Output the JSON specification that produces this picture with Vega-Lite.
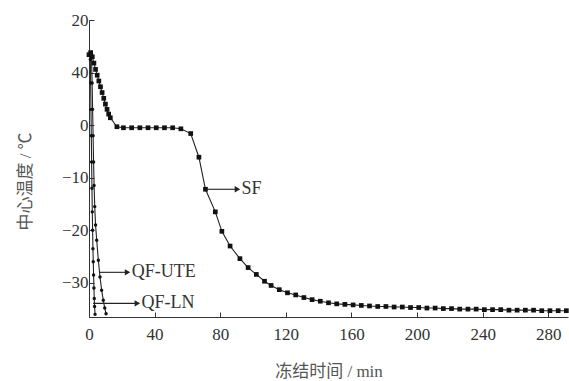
{
  "$schema": "https://vega.github.io/schema/vega-lite/v6.json",
  "width": 479,
  "height": 297,
  "autosize": "none",
  "padding": {"left": 89, "top": 20, "right": 1, "bottom": 64},
  "background": "white",
  "config": {
    "view": {"stroke": null},
    "font": "Liberation Serif, Noto Sans CJK SC",
    "axis": {
      "grid": false,
      "domainColor": "#333",
      "tickColor": "#333",
      "labelColor": "#333",
      "titleColor": "#555",
      "labelFont": "Liberation Serif",
      "labelFontSize": 17,
      "titleFont": "Liberation Serif, Noto Sans CJK SC",
      "titleFontSize": 17,
      "titleFontWeight": "normal",
      "tickSize": -5
    }
  },
  "datasets": {
    "curves": [
      {"series": "SF", "t": 0, "T": 13.4},
      {"series": "SF", "t": 1, "T": 13.8},
      {"series": "SF", "t": 2, "T": 13.0},
      {"series": "SF", "t": 3, "T": 11.8},
      {"series": "SF", "t": 4, "T": 10.6},
      {"series": "SF", "t": 5, "T": 9.5},
      {"series": "SF", "t": 6, "T": 8.4},
      {"series": "SF", "t": 7, "T": 7.3},
      {"series": "SF", "t": 8, "T": 6.2},
      {"series": "SF", "t": 9, "T": 5.1},
      {"series": "SF", "t": 10, "T": 4.0},
      {"series": "SF", "t": 11, "T": 3.0},
      {"series": "SF", "t": 12, "T": 2.1},
      {"series": "SF", "t": 13, "T": 1.4},
      {"series": "SF", "t": 17, "T": -0.3},
      {"series": "SF", "t": 21, "T": -0.5},
      {"series": "SF", "t": 26, "T": -0.5},
      {"series": "SF", "t": 31, "T": -0.5},
      {"series": "SF", "t": 36, "T": -0.5},
      {"series": "SF", "t": 41, "T": -0.5},
      {"series": "SF", "t": 46, "T": -0.5},
      {"series": "SF", "t": 51, "T": -0.5},
      {"series": "SF", "t": 56, "T": -0.7},
      {"series": "SF", "t": 62, "T": -1.6},
      {"series": "SF", "t": 67, "T": -6.1},
      {"series": "SF", "t": 71, "T": -12.2},
      {"series": "SF", "t": 77, "T": -16.5},
      {"series": "SF", "t": 81, "T": -20.2},
      {"series": "SF", "t": 86, "T": -23.0},
      {"series": "SF", "t": 92, "T": -25.4},
      {"series": "SF", "t": 97, "T": -27.1},
      {"series": "SF", "t": 102, "T": -28.4},
      {"series": "SF", "t": 107, "T": -29.7},
      {"series": "SF", "t": 111, "T": -30.5},
      {"series": "SF", "t": 116, "T": -31.3},
      {"series": "SF", "t": 121, "T": -31.9},
      {"series": "SF", "t": 126, "T": -32.3},
      {"series": "SF", "t": 131, "T": -32.8},
      {"series": "SF", "t": 136, "T": -33.2},
      {"series": "SF", "t": 141, "T": -33.5},
      {"series": "SF", "t": 146, "T": -33.8},
      {"series": "SF", "t": 151, "T": -34.0},
      {"series": "SF", "t": 156, "T": -34.1},
      {"series": "SF", "t": 161, "T": -34.2},
      {"series": "SF", "t": 166, "T": -34.3},
      {"series": "SF", "t": 171, "T": -34.4},
      {"series": "SF", "t": 176, "T": -34.5},
      {"series": "SF", "t": 181, "T": -34.5},
      {"series": "SF", "t": 186, "T": -34.6},
      {"series": "SF", "t": 191, "T": -34.6},
      {"series": "SF", "t": 196, "T": -34.7},
      {"series": "SF", "t": 201, "T": -34.7},
      {"series": "SF", "t": 206, "T": -34.8},
      {"series": "SF", "t": 211, "T": -34.8},
      {"series": "SF", "t": 216, "T": -34.9},
      {"series": "SF", "t": 221, "T": -34.9},
      {"series": "SF", "t": 226, "T": -35.0},
      {"series": "SF", "t": 231, "T": -35.0},
      {"series": "SF", "t": 236, "T": -35.0},
      {"series": "SF", "t": 241, "T": -35.1},
      {"series": "SF", "t": 246, "T": -35.1},
      {"series": "SF", "t": 251, "T": -35.1},
      {"series": "SF", "t": 256, "T": -35.2},
      {"series": "SF", "t": 261, "T": -35.2},
      {"series": "SF", "t": 266, "T": -35.2},
      {"series": "SF", "t": 271, "T": -35.2},
      {"series": "SF", "t": 276, "T": -35.3},
      {"series": "SF", "t": 281, "T": -35.3},
      {"series": "SF", "t": 286, "T": -35.3},
      {"series": "SF", "t": 291, "T": -35.3},
      {"series": "QF-UTE", "t": 1.5, "T": 13.5},
      {"series": "QF-UTE", "t": 1.9, "T": 8.0},
      {"series": "QF-UTE", "t": 2.2, "T": 3.0},
      {"series": "QF-UTE", "t": 2.5, "T": -2.0},
      {"series": "QF-UTE", "t": 2.8, "T": -7.0},
      {"series": "QF-UTE", "t": 3.1, "T": -11.5},
      {"series": "QF-UTE", "t": 3.5, "T": -15.5},
      {"series": "QF-UTE", "t": 4.0, "T": -19.0},
      {"series": "QF-UTE", "t": 4.7, "T": -21.9},
      {"series": "QF-UTE", "t": 5.7, "T": -25.7},
      {"series": "QF-UTE", "t": 6.7, "T": -28.9},
      {"series": "QF-UTE", "t": 7.7, "T": -31.4},
      {"series": "QF-UTE", "t": 8.7, "T": -33.3},
      {"series": "QF-UTE", "t": 9.6, "T": -34.8},
      {"series": "QF-UTE", "t": 10.4, "T": -35.9},
      {"series": "QF-LN", "t": 0.8, "T": 12.5},
      {"series": "QF-LN", "t": 1.0, "T": 8.0},
      {"series": "QF-LN", "t": 1.2, "T": 3.0},
      {"series": "QF-LN", "t": 1.4, "T": -2.0},
      {"series": "QF-LN", "t": 1.6, "T": -7.0},
      {"series": "QF-LN", "t": 1.8, "T": -12.0},
      {"series": "QF-LN", "t": 2.0, "T": -16.5},
      {"series": "QF-LN", "t": 2.2, "T": -20.0},
      {"series": "QF-LN", "t": 2.4, "T": -23.5},
      {"series": "QF-LN", "t": 2.6, "T": -26.0},
      {"series": "QF-LN", "t": 2.8, "T": -28.5},
      {"series": "QF-LN", "t": 3.0, "T": -31.0},
      {"series": "QF-LN", "t": 3.2, "T": -33.0},
      {"series": "QF-LN", "t": 3.4, "T": -34.5},
      {"series": "QF-LN", "t": 3.7, "T": -36.0}
    ],
    "notes": [
      {"label": "SF", "x1": 71.5, "x2": 90.5, "y": -12.2, "tx": 93},
      {"label": "QF-UTE", "x1": 6.5, "x2": 23.5, "y": -28.0, "tx": 26},
      {"label": "QF-LN", "x1": 2.5, "x2": 29.5, "y": -33.9, "tx": 32}
    ]
  },
  "layer": [
    {
      "data": {"name": "curves"},
      "mark": {"type": "line", "color": "#222", "strokeWidth": 1.1, "clip": false},
      "encoding": {
        "x": {
          "field": "t", "type": "quantitative",
          "scale": {"domain": [0, 292], "nice": false, "zero": false},
          "axis": {
            "values": [0, 40, 80, 120, 160, 200, 240, 280],
            "title": "冻结时间 / min",
            "labelPadding": 14,
            "titlePadding": 21,
            "labelFlush": false
          }
        },
        "y": {
          "field": "T", "type": "quantitative",
          "scale": {"domain": [-36.5, 20], "nice": false, "zero": false},
          "axis": {
            "values": [20, 10, 0, -10, -20, -30],
            "labelExpr": "datum.value == 10 ? '40' : datum.label",
            "title": "中心温度 / ℃",
            "labelPadding": 6,
            "titleX": -64,
            "titleY": 161,
            "titleAngle": -90,
            "titleAlign": "center",
            "titleBaseline": "middle",
            "labelFlush": false
          }
        },
        "detail": {"field": "series"}
      }
    },
    {
      "data": {"name": "curves"},
      "transform": [{"filter": "datum.series == 'SF'"}],
      "mark": {"type": "point", "shape": "square", "filled": true, "color": "#111", "size": 22, "opacity": 1},
      "encoding": {
        "x": {"field": "t", "type": "quantitative"},
        "y": {"field": "T", "type": "quantitative"}
      }
    },
    {
      "data": {"name": "curves"},
      "transform": [{"filter": "datum.series != 'SF'"}],
      "mark": {"type": "point", "shape": "circle", "filled": true, "color": "#111", "size": 12, "opacity": 1},
      "encoding": {
        "x": {"field": "t", "type": "quantitative"},
        "y": {"field": "T", "type": "quantitative"}
      }
    },
    {
      "data": {"name": "notes"},
      "mark": {"type": "rule", "color": "#222", "strokeWidth": 1.1},
      "encoding": {
        "x": {"field": "x1", "type": "quantitative"},
        "x2": {"field": "x2"},
        "y": {"field": "y", "type": "quantitative"}
      }
    },
    {
      "data": {"name": "notes"},
      "mark": {"type": "point", "shape": "triangle-right", "filled": true, "color": "#222", "size": 40, "opacity": 1},
      "encoding": {
        "x": {"field": "x2", "type": "quantitative"},
        "y": {"field": "y", "type": "quantitative"}
      }
    },
    {
      "data": {"name": "notes"},
      "mark": {"type": "text", "align": "left", "baseline": "middle", "font": "Liberation Serif", "fontSize": 18, "color": "#333"},
      "encoding": {
        "x": {"field": "tx", "type": "quantitative"},
        "y": {"field": "y", "type": "quantitative"},
        "text": {"field": "label"}
      }
    }
  ]
}
